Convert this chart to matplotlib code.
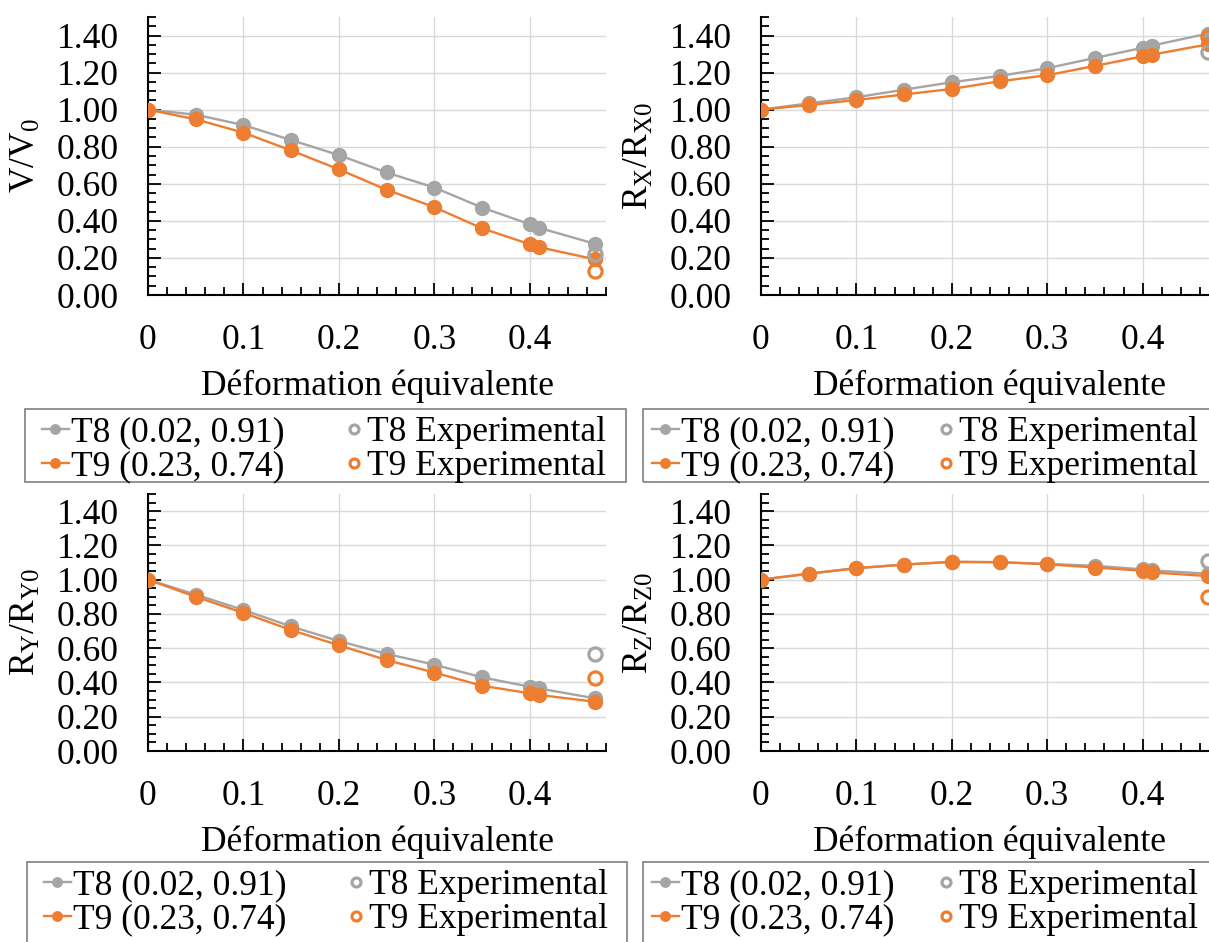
import numpy as np
import matplotlib
matplotlib.use("Agg")
import matplotlib.pyplot as plt
from matplotlib.patches import Rectangle
from matplotlib.ticker import MultipleLocator, FormatStrFormatter

# Police type Times
plt.rcParams['font.family'] = ['Liberation Serif', 'DejaVu Serif']
plt.rcParams['mathtext.fontset'] = 'custom'
plt.rcParams['mathtext.rm'] = 'Liberation Serif'
plt.rcParams['mathtext.it'] = 'Liberation Serif:italic'

# Données (déformation équivalente)
eps = [0, 0.05, 0.10, 0.15, 0.20, 0.25, 0.30, 0.35, 0.40, 0.41, 0.468]
eps_exp = [0.468]

# V/V0
v_t8 = [1.00, 0.973, 0.917, 0.836, 0.755, 0.661, 0.580, 0.472, 0.382, 0.362, 0.277]
v_t9 = [1.00, 0.948, 0.876, 0.780, 0.678, 0.568, 0.474, 0.360, 0.274, 0.258, 0.193]
v_t8_exp = [0.22]
v_t9_exp = [0.13]

# Rx/Rx0
rx_t8 = [1.00, 1.034, 1.067, 1.108, 1.148, 1.182, 1.224, 1.279, 1.334, 1.346, 1.410]
rx_t9 = [1.00, 1.025, 1.052, 1.082, 1.112, 1.153, 1.186, 1.236, 1.288, 1.297, 1.352]
rx_t8_exp = [1.31]
rx_t9_exp = [1.39]

# Ry/Ry0
ry_t8 = [1.00, 0.913, 0.823, 0.727, 0.642, 0.567, 0.504, 0.430, 0.375, 0.365, 0.308]
ry_t9 = [1.00, 0.900, 0.806, 0.706, 0.617, 0.531, 0.458, 0.381, 0.337, 0.327, 0.288]
ry_t8_exp = [0.567]
ry_t9_exp = [0.425]

# Rz/Rz0
rz_t8 = [1.00, 1.035, 1.067, 1.088, 1.104, 1.102, 1.092, 1.081, 1.060, 1.054, 1.035]
rz_t9 = [1.00, 1.035, 1.067, 1.088, 1.104, 1.102, 1.090, 1.071, 1.052, 1.042, 1.021]
rz_t8_exp = [1.108]
rz_t9_exp = [0.896]

gris = '#A5A5A5'
orange = '#ED7D31'
fs = 25.5

W, H = 1209, 942
fig = plt.figure(figsize=(W / 100, H / 100), dpi=100)


def px_axes(x0, y0, x1, y1):
    # position en pixels (origine en haut à gauche)
    return fig.add_axes([x0 / W, 1 - y1 / H, (x1 - x0) / W, (y1 - y0) / H])


def tracer(ax, y8, y9, y8e, y9e, ylabel):
    l1, = ax.plot(eps, y8, '-o', color=gris, lw=1.7, ms=10, label='T8 (0.02, 0.91)', zorder=3)
    l2, = ax.plot(eps, y9, '-o', color=orange, lw=1.7, ms=10, label='T9 (0.23, 0.74)', zorder=4)
    l3, = ax.plot(eps_exp, y8e, 'o', mfc='none', mec=gris, mew=2.3, ms=9.5, label='T8 Experimental', zorder=5)
    l4, = ax.plot(eps_exp, y9e, 'o', mfc='none', mec=orange, mew=2.3, ms=9.5, label='T9 Experimental', zorder=5)

    ax.set_xlim(0, 0.48)
    ax.set_ylim(0, 1.5)
    ax.set_xticks([0, 0.1, 0.2, 0.3, 0.4])
    ax.set_xticklabels(['0', '0.1', '0.2', '0.3', '0.4'])
    ax.xaxis.set_minor_locator(MultipleLocator(0.02))
    ax.set_yticks(np.arange(0, 1.41, 0.2))
    ax.yaxis.set_major_formatter(FormatStrFormatter('%.2f'))
    ax.yaxis.set_minor_locator(MultipleLocator(0.05))
    ax.tick_params(which='major', direction='in', length=9, width=1.3, labelsize=fs, pad=21)
    ax.tick_params(which='minor', direction='in', length=6, width=1.3)
    ax.grid(True, which='major', color='#D9D9D9', lw=1.0)
    ax.set_axisbelow(True)
    for s in ['top', 'right']:
        ax.spines[s].set_visible(False)
    for s in ['left', 'bottom']:
        ax.spines[s].set_linewidth(1.5)
    ax.set_xlabel('Déformation équivalente', fontsize=fs, labelpad=9)
    ax.set_ylabel(ylabel, fontsize=fs, labelpad=10)
    return [l1, l2], [l3, l4]


def legende(lignes, points, box, x_col1, x_col2, y_haut):
    # cadre de la légende
    x0, y0, x1, y1 = box
    fig.add_artist(Rectangle((x0 / W, 1 - y1 / H), (x1 - x0) / W, (y1 - y0) / H,
                             transform=fig.transFigure, fill=False,
                             edgecolor='#7F7F7F', lw=1.2))
    opts = dict(loc='upper left', bbox_transform=fig.transFigure, fontsize=fs,
                frameon=False, borderaxespad=0, borderpad=0, labelspacing=0.04,
                markerscale=0.68)
    fig.legend(handles=lignes, bbox_to_anchor=(x_col1 / W, 1 - y_haut / H),
               handlelength=0.75, handletextpad=0.07, **opts)
    fig.legend(handles=points, bbox_to_anchor=(x_col2 / W, 1 - y_haut / H),
               handlelength=0.3, handletextpad=0.22, **opts)


ax1 = px_axes(148, 17, 606, 295)
h = tracer(ax1, v_t8, v_t9, v_t8_exp, v_t9_exp, r'V/V$_0$')
legende(h[0], h[1], (25, 409, 626, 482), 42, 349, 416)

ax2 = px_axes(761, 17, 1219, 295)
h = tracer(ax2, rx_t8, rx_t9, rx_t8_exp, rx_t9_exp, r'R$_\mathrm{X}$/R$_\mathrm{X0}$')
legende(h[0], h[1], (643, 409, 1265, 482), 652, 941, 416)

ax3 = px_axes(148, 494, 606, 751)
h = tracer(ax3, ry_t8, ry_t9, ry_t8_exp, ry_t9_exp, r'R$_\mathrm{Y}$/R$_\mathrm{Y0}$')
legende(h[0], h[1], (27, 862, 627, 955), 44, 351, 869)

ax4 = px_axes(761, 494, 1219, 751)
h = tracer(ax4, rz_t8, rz_t9, rz_t8_exp, rz_t9_exp, r'R$_\mathrm{Z}$/R$_\mathrm{Z0}$')
legende(h[0], h[1], (643, 862, 1265, 955), 652, 941, 869)

plt.savefig('out.png', dpi=100)
